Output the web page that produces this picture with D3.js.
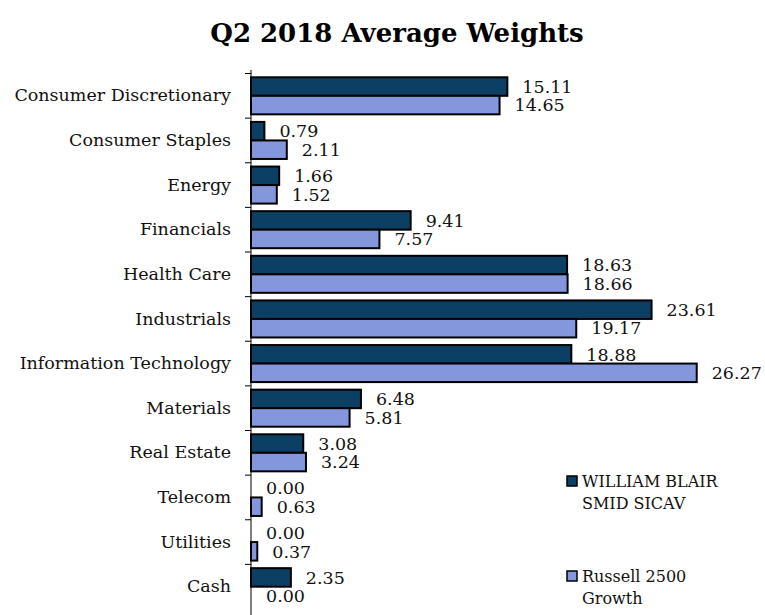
<html>
  <head>
    <meta charset="utf-8" />
    <script src="https://cdnjs.cloudflare.com/ajax/libs/d3/7.6.1/d3.min.js"></script>
    <style>
      body { margin: 0; background: #fff; }
      svg { width: 765px; height: 615px; font-family: "DejaVu Serif", serif; }
    </style>
  </head>
  <body>
    <svg></svg>
  </body>
  <script>
    var categories = [
      "Consumer Discretionary", "Consumer Staples", "Energy", "Financials",
      "Health Care", "Industrials", "Information Technology", "Materials",
      "Real Estate", "Telecom", "Utilities", "Cash"
    ];
    var seriesNames = ["WILLIAM BLAIR SMID SICAV", "Russell 2500 Growth"];
    var fund = [15.11, 0.79, 1.66, 9.41, 18.63, 23.61, 18.88, 6.48, 3.08, 0.0, 0.0, 2.35];
    var bench = [14.65, 2.11, 1.52, 7.57, 18.66, 19.17, 26.27, 5.81, 3.24, 0.63, 0.37, 0.0];
    var colors = ["#0b3f63", "#8496dc"];

    var svg = d3.select("svg");

    svg.append("text")
      .attr("x", 397).attr("y", 42)
      .attr("text-anchor", "middle")
      .style("font-size", "26px").style("font-weight", "bold")
      .text("Q2 2018 Average Weights");

    const x = d3.scaleLinear().domain([0, 30]).range([251, 760]);
    const y = d3.scaleBand().domain(categories).range([73.5, 609])
      .paddingInner(0.17).paddingOuter(0.085);
    const ys = d3.scaleBand().domain([0, 1]).range([0, y.bandwidth()]);

    // category axis
    const yAxis = d3.axisLeft(y).tickSize(0).tickPadding(20);
    const gy = svg.append("g").attr("transform", "translate(251,0)").call(yAxis);
    gy.select(".domain").remove();
    gy.selectAll("text").style("font-size", "17.5px").style("font-family", "DejaVu Serif").attr("fill", "#111");

    svg.append("line").attr("x1", 251).attr("x2", 251).attr("y1", 70).attr("y2", 615)
      .attr("stroke", "#000").attr("stroke-width", 1);
    var bounds = categories.map((c) => y(c) - (y.step() - y.bandwidth()) / 2);
    svg.selectAll("line.tick").data(bounds).enter().append("line")
      .attr("x1", 245).attr("x2", 251)
      .attr("y1", (d) => d).attr("y2", (d) => d)
      .attr("stroke", "#000");

    var rows = categories.map((c, i) => ({ cat: c, vals: [fund[i], bench[i]] }));

    var g = svg.selectAll("g.cat").data(rows).enter().append("g")
      .attr("transform", (d) => "translate(0," + y(d.cat) + ")");

    g.selectAll("rect")
      .data((d) => d.vals.map((v, j) => ({ v: v, j: j })).filter((d) => d.v > 0))
      .enter().append("rect")
      .attr("x", x(0))
      .attr("y", (d) => ys(d.j))
      .attr("width", (d) => x(d.v) - x(0))
      .attr("height", ys.bandwidth())
      .attr("fill", (d) => colors[d.j])
      .attr("stroke", "#000").attr("stroke-width", 2);

    g.selectAll("text.lbl")
      .data((d) => d.vals.map((v, j) => ({ v: v, j: j })))
      .enter().append("text")
      .attr("class", "lbl")
      .attr("x", (d) => x(d.v) + 15)
      .attr("y", (d) => ys(d.j) + ys.bandwidth() / 2)
      .attr("dy", "0.36em")
      .style("font-size", "17.5px")
      .attr("fill", "#111")
      .text((d) => d.v.toFixed(2));

    // legend
    var legY = [476, 571];
    var legLines = [["WILLIAM BLAIR", "SMID SICAV"], ["Russell 2500", "Growth"]];
    legY.forEach(function (ly, i) {
      svg.append("rect").attr("x", 567).attr("y", ly).attr("width", 10).attr("height", 10)
        .attr("fill", colors[i]).attr("stroke", "#000").attr("stroke-width", 1.5);
      var t = svg.append("text").attr("x", 582).attr("y", ly + 11).style("font-size", "16px").attr("fill", "#111");
      legLines[i].forEach(function (s, k) {
        t.append("tspan").attr("x", 582).attr("dy", k ? 22 : 0).text(s);
      });
    });
  </script>
</html>
